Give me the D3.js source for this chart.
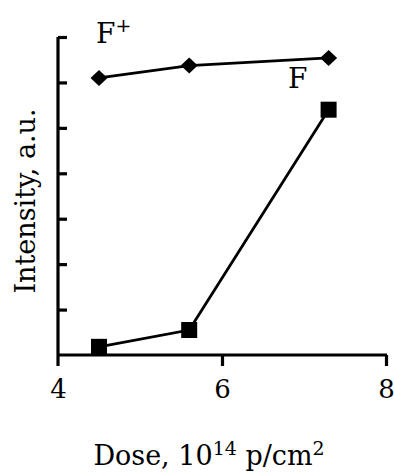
<!DOCTYPE html>
<html>
<head>
<meta charset="utf-8">
<script src="https://cdn.jsdelivr.net/npm/d3@7"></script>
<style>
  body { margin: 0; background: #fff; }
  text { font-family: "DejaVu Serif", "Liberation Serif", serif; fill: #000; }
</style>
</head>
<body>
<div id="chart"></div>
<script>
// Data
var doses = [4.5, 5.6, 7.3];
var fPlus = [6.10, 6.37, 6.54];
var fCenter = [0.18, 0.55, 5.40];
var xTicks = [4, 6, 8];
var yTicks = [0, 1, 2, 3, 4, 5, 6, 7];

var width = 394;
var height = 473;

var x = d3.scaleLinear()
          .domain([4, 8])
          .range([58, 386]);
var y = d3.scaleLinear()
          .domain([0, 7])
          .range([355, 37]);

var svg = d3.select('#chart')
            .append('svg')
            .attr('width', width)
            .attr('height', height);

// Axes
var xAxis = svg.append('g')
               .attr('transform', 'translate(0,' + y(0) + ')')
               .call(d3.axisBottom(x)
                       .tickValues(xTicks)
                       .tickSize(11)
                       .tickPadding(14)
                       .tickFormat(d3.format('d')));
var yAxis = svg.append('g')
               .attr('transform', 'translate(' + x(4) + ',0)')
               .call(d3.axisRight(y).tickValues(yTicks).tickSize(9).tickFormat(''));

[xAxis, yAxis].forEach(function (g) {
  g.select('.domain').attr('stroke-width', 3.2).attr('stroke', '#000');
  g.selectAll('.tick line').attr('stroke-width', 3.2).attr('stroke', '#000');
});
yAxis.select('.domain').attr('d', 'M0,' + y(7) + 'V' + (y(0) + 11));
yAxis.selectAll('.tick').filter(function (d) { return d === 0; }).remove();
xAxis.select('.domain').attr('d', 'M' + x(4) + ',0H' + (x(8) + 1));
xAxis.selectAll('.tick').filter(function (d) { return d === 4; }).select('line').remove();
xAxis.selectAll('.tick text')
     .attr('font-size', 26)
     .attr('font-family', '"DejaVu Serif", serif')
     .attr('fill', '#000');

// Lines
var line = d3.line()
             .x(function (d) { return x(d[0]); })
             .y(function (d) { return y(d[1]); });

function series(values) {
  return doses.map(function (d, i) { return [d, values[i]]; });
}

[fPlus, fCenter].forEach(function (values) {
  svg.append('path')
     .datum(series(values))
     .attr('d', line)
     .attr('fill', 'none')
     .attr('stroke', '#000')
     .attr('stroke-width', 2.8);
});

// Markers
svg.selectAll('.diamond')
   .data(series(fPlus))
   .enter()
   .append('path')
   .attr('class', 'diamond')
   .attr('d', 'M-8.5,0L0,-8L8.5,0L0,8Z')
   .attr('transform', function (d) {
     return 'translate(' + x(d[0]) + ',' + y(d[1]) + ')';
   })
   .attr('fill', '#000');

svg.selectAll('.square')
   .data(series(fCenter))
   .enter()
   .append('rect')
   .attr('class', 'square')
   .attr('x', function (d) { return x(d[0]) - 8; })
   .attr('y', function (d) { return y(d[1]) - 8; })
   .attr('width', 16)
   .attr('height', 16)
   .attr('fill', '#000');

// Series labels
var fp = svg.append('text')
            .attr('x', 96)
            .attr('y', 43)
            .attr('font-size', 28);
fp.append('tspan').text('F');
fp.append('tspan').attr('dy', -11).attr('font-size', 19).text('+');

svg.append('text')
   .attr('x', 288)
   .attr('y', 88)
   .attr('font-size', 28)
   .text('F');

// Axis titles
var xt = svg.append('text')
            .attr('x', 209)
            .attr('y', 465)
            .attr('text-anchor', 'middle')
            .attr('font-size', 27);
xt.append('tspan').text('Dose, 10');
xt.append('tspan').attr('dy', -10).attr('font-size', 19).text('14');
xt.append('tspan').attr('dy', 10).text(' p/cm');
xt.append('tspan').attr('dy', -10).attr('font-size', 19).text('2');

svg.append('text')
   .attr('transform', 'translate(35,201) rotate(-90)')
   .attr('text-anchor', 'middle')
   .attr('font-size', 27)
   .text('Intensity, a.u.');
</script>
</body>
</html>
